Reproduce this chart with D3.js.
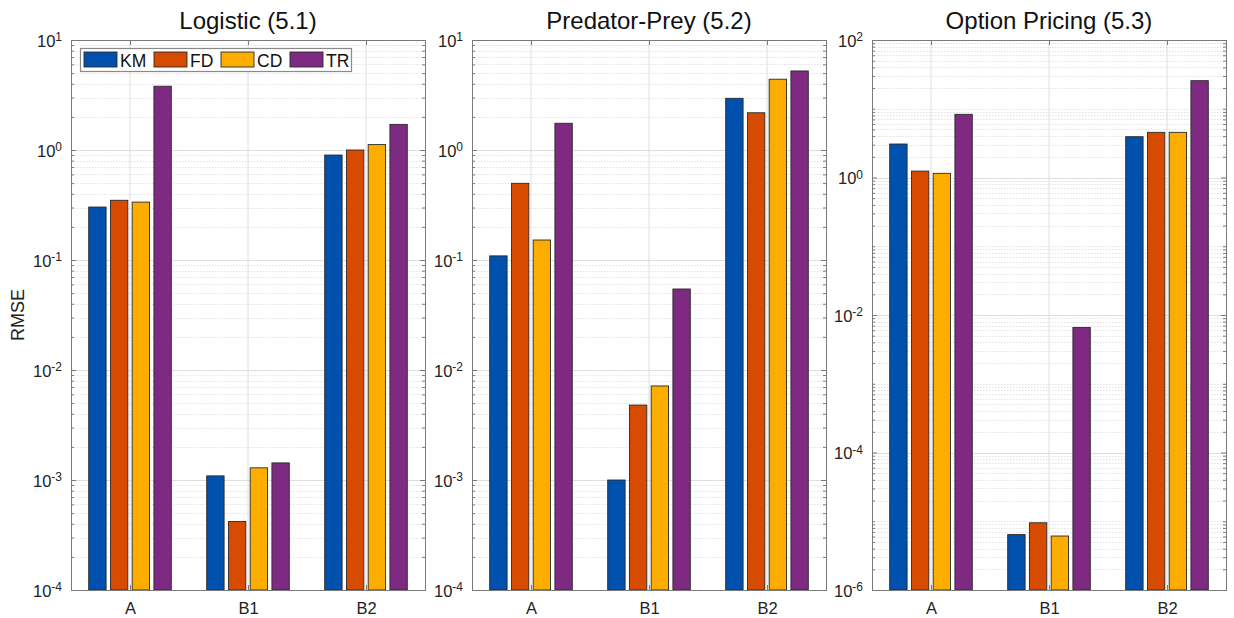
<!DOCTYPE html>
<html>
<head>
<meta charset="utf-8">
<script src="https://cdn.jsdelivr.net/npm/d3@7"></script>
<style>
  html, body { margin: 0; padding: 0; background: #fff; }
  svg { display: block; font-family: "Liberation Sans", Arial, Helvetica, sans-serif; }
</style>
</head>
<body>
<svg id="chart" width="1234" height="618"></svg>
<script>
// ---------- data ----------
const categories = ["A", "B1", "B2"];
const seriesNames = ["KM", "FD", "CD", "TR"];
const seriesColors = ["#0051ad", "#d64b00", "#fcad00", "#7e2a82"];
const panelTitles = ["Logistic (5.1)", "Predator-Prey (5.2)", "Option Pricing (5.3)"];

// values per series (rows: KM, FD, CD, TR; columns: A, B1, B2)
const logisticValues = [
  [0.303, 0.00109, 0.90],
  [0.349, 0.00042, 1.00],
  [0.336, 0.00129, 1.12],
  [3.80,  0.00143, 1.71]
];
const predatorPreyValues = [
  [0.109, 0.00100, 2.95],
  [0.498, 0.00480, 2.18],
  [0.152, 0.00716, 4.40],
  [1.75,  0.0545,  5.23]
];
const optionPricingValues = [
  [3.07, 6.4e-6, 3.92],
  [1.24, 9.5e-6, 4.54],
  [1.15, 6.1e-6, 4.54],
  [8.3,  6.6e-3, 25.6]
];

const logisticDomain = [1e-4, 1e1];
const predatorPreyDomain = [1e-4, 1e1];
const optionPricingDomain = [1e-6, 1e2];

const logisticTickExps = [-4, -3, -2, -1, 0, 1];
const predatorPreyTickExps = [-4, -3, -2, -1, 0, 1];
const optionPricingTickExps = [-6, -4, -2, 0, 2];

const yLabel = "RMSE";

// ---------- layout ----------
const panels = [
  { title: panelTitles[0], values: logisticValues, domain: logisticDomain, tickExps: logisticTickExps, x0: 71, x1: 425 },
  { title: panelTitles[1], values: predatorPreyValues, domain: predatorPreyDomain, tickExps: predatorPreyTickExps, x0: 472, x1: 826 },
  { title: panelTitles[2], values: optionPricingValues, domain: optionPricingDomain, tickExps: optionPricingTickExps, x0: 872, x1: 1226 }
];
const yTop = 40, yBottom = 590;
const axisColor = "#7a7a7a";
const majorGrid = "#dedede";
const minorGrid = "#e2e2e2";

const svg = d3.select("#chart");

panels.forEach((p, pi) => {
  const g = svg.append("g");
  const x = d3.scaleBand().domain(categories).range([p.x0, p.x1]).padding(0);
  const bw = x.bandwidth();
  const xs = d3.scaleBand().domain(seriesNames).range([bw * 0.15, bw * 0.85]).paddingInner(0.2).paddingOuter(0);
  const y = d3.scaleLog().domain(p.domain).range([yBottom, yTop]);

  const lo = Math.round(Math.log10(p.domain[0]));
  const hi = Math.round(Math.log10(p.domain[1]));
  const majorVals = p.tickExps.map(e => Math.pow(10, e));
  const minorVals = [];
  for (let e = lo; e < hi; e++) {
    for (let k = 1; k <= 9; k++) {
      const v = k * Math.pow(10, e);
      if (k === 1 && p.tickExps.includes(e)) continue;
      minorVals.push(v);
    }
  }

  // minor grid (dotted)
  g.append("g").selectAll("line").data(minorVals).join("line")
    .attr("x1", p.x0).attr("x2", p.x1)
    .attr("y1", d => Math.round(y(d)) + 0.5).attr("y2", d => Math.round(y(d)) + 0.5)
    .attr("stroke", minorGrid).attr("stroke-width", 1).attr("stroke-dasharray", "1.5,1.5");
  // major grid (solid)
  g.append("g").selectAll("line").data(majorVals).join("line")
    .attr("x1", p.x0).attr("x2", p.x1)
    .attr("y1", d => Math.round(y(d)) + 0.5).attr("y2", d => Math.round(y(d)) + 0.5)
    .attr("stroke", majorGrid).attr("stroke-width", 1);
  // vertical grid at categories
  g.append("g").selectAll("line").data(categories).join("line")
    .attr("x1", d => x(d) + bw / 2).attr("x2", d => x(d) + bw / 2)
    .attr("y1", yTop).attr("y2", yBottom)
    .attr("stroke", majorGrid).attr("stroke-width", 1);

  // bars
  seriesNames.forEach((s, si) => {
    g.append("g").selectAll("rect").data(categories).join("rect")
      .attr("x", (c) => x(c) + xs(s))
      .attr("width", xs.bandwidth())
      .attr("y", (c, ci) => y(p.values[si][ci]))
      .attr("height", (c, ci) => yBottom - y(p.values[si][ci]))
      .attr("fill", seriesColors[si])
      .attr("stroke", "#2a2a2a").attr("stroke-width", 0.9);
  });

  // axes
  const axLeft = d3.axisLeft(y).tickValues(majorVals).tickSize(-5).tickPadding(10).tickFormat("");
  const axRight = d3.axisRight(y).tickValues(majorVals).tickSize(-5).tickFormat("");
  const axLeftMinor = d3.axisLeft(y).tickValues(minorVals).tickSize(-3).tickFormat("");
  const axRightMinor = d3.axisRight(y).tickValues(minorVals).tickSize(-3).tickFormat("");
  const xLin = d3.scalePoint().domain(categories).range([x(categories[0]) + bw / 2, x(categories[2]) + bw / 2]);
  const axBottom = d3.axisBottom(xLin).tickSize(-5).tickPadding(10);
  const axTop = d3.axisTop(xLin).tickSize(-5).tickFormat("");

  const styleAxis = sel => {
    sel.selectAll("path").remove();
    sel.selectAll("line").attr("stroke", axisColor);
  };
  g.append("g").attr("transform", `translate(${p.x0},0)`).call(axLeftMinor).call(styleAxis);
  g.append("g").attr("transform", `translate(${p.x1},0)`).call(axRightMinor).call(styleAxis);
  const gl = g.append("g").attr("transform", `translate(${p.x0},0)`).call(axLeft).call(styleAxis);
  g.append("g").attr("transform", `translate(${p.x1},0)`).call(axRight).call(styleAxis);
  const gb = g.append("g").attr("transform", `translate(0,${yBottom})`).call(axBottom).call(styleAxis);
  g.append("g").attr("transform", `translate(0,${yTop})`).call(axTop).call(styleAxis);

  // y tick labels with superscripts
  gl.selectAll(".tick text").remove();
  gl.selectAll(".tick").append("text")
    .attr("x", -9).attr("dy", "0.38em")
    .attr("text-anchor", "end").attr("fill", "#222")
    .style("font-size", "16.5px")
    .each(function (d) {
      const e = Math.round(Math.log10(d));
      const t = d3.select(this);
      t.append("tspan").text("10");
      t.append("tspan").attr("dy", "-0.45em").style("font-size", "12px").text(String(e));
    });

  gb.selectAll(".tick text").attr("fill", "#222").style("font-size", "16.5px").attr("dy", "0.71em").attr("y", 12);

  // box
  g.append("rect").attr("x", p.x0 + 0.5).attr("y", yTop + 0.5)
    .attr("width", p.x1 - p.x0).attr("height", yBottom - yTop)
    .attr("fill", "none").attr("stroke", axisColor).attr("stroke-width", 1);

  // title
  g.append("text").attr("x", (p.x0 + p.x1) / 2).attr("y", 29)
    .attr("text-anchor", "middle").attr("fill", "#111")
    .style("font-size", "24px").text(p.title);

  // legend in first panel
  if (pi === 0) {
    const lg = g.append("g");
    lg.append("rect").attr("x", 80.5).attr("y", 48.5).attr("width", 271).attr("height", 23)
      .attr("fill", "#fff").attr("stroke", "#8a8a8a").attr("stroke-width", 1.2);
    const itemX = [84, 154, 221, 290];
    seriesNames.forEach((s, si) => {
      lg.append("rect").attr("x", itemX[si]).attr("y", 52).attr("width", 33).attr("height", 15)
        .attr("fill", seriesColors[si]).attr("stroke", "#2a2a2a").attr("stroke-width", 0.9);
      lg.append("text").attr("x", itemX[si] + 36).attr("y", 66.5)
        .attr("fill", "#111").style("font-size", "17.5px").text(s);
    });
  }
});

// y-axis label
svg.append("text")
  .attr("transform", `translate(24,${(yTop + yBottom) / 2}) rotate(-90)`)
  .attr("text-anchor", "middle").attr("fill", "#222")
  .style("font-size", "18px").text(yLabel);
</script>
</body>
</html>
